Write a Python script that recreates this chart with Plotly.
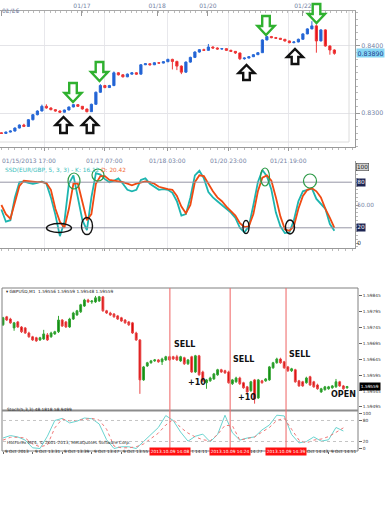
import plotly.graph_objects as go

W, H = 385, 505

# ---------------- TOP CHART (EUR/GBP) ----------------
top_open = [.82705,.82695,.82716,.82731,.82776,.82821,.82800,.82900,.82975,.83030,
            .83100,.83075,.83050,.83030,.83012,.83045,.83090,.83125,.83100,.83060,
            .83020,.83130,.83310,.83410,.83380,.83410,.83600,.83570,.83540,.83580,
            .83600,.83580,.83720,.83735,.83720,.83750,.83745,.83765,.83800,.83770,
            .83700,.83610,.83760,.83830,.83910,.83945,.83935,.83985,.83970,.83955,
            .83960,.83935,.83920,.83896,.83810,.83820,.83840,.83870,.83900,.84090,
            .84140,.84125,.84115,.84100,.84075,.84050,.84060,.84100,.84180,.84255,
            .84300,.84075,.84240,.84000,.83940]
top_close = [.82695,.82716,.82731,.82776,.82821,.82800,.82900,.82975,.83030,.83100,
             .83075,.83050,.83030,.83012,.83045,.83090,.83125,.83100,.83060,.83020,
             .83130,.83310,.83410,.83380,.83410,.83600,.83570,.83540,.83580,.83600,
             .83580,.83720,.83735,.83720,.83750,.83745,.83765,.83800,.83770,.83700,
             .83610,.83760,.83830,.83910,.83945,.83935,.83985,.83970,.83955,.83960,
             .83935,.83920,.83896,.83810,.83820,.83840,.83870,.83900,.84090,.84140,
             .84125,.84115,.84100,.84075,.84050,.84060,.84100,.84180,.84255,.84300,
             .84075,.84240,.84000,.83940,.83890]
top_high = [.82712,.82722,.82740,.82785,.82830,.82840,.82910,.82985,.83040,.83125,
            .83130,.83085,.83060,.83040,.83050,.83095,.83135,.83130,.83105,.83065,
            .83140,.83320,.83430,.83420,.83420,.83620,.83610,.83580,.83590,.83610,
            .83610,.83730,.83745,.83740,.83760,.83760,.83775,.83810,.83810,.83780,
            .83710,.83770,.83840,.83920,.83955,.83960,.84030,.83995,.83980,.83970,
            .83965,.83945,.83925,.83900,.83830,.83850,.83880,.83910,.84100,.84150,
            .84150,.84135,.84120,.84105,.84080,.84070,.84110,.84190,.84265,.84370,
            .84320,.84250,.84250,.84010,.83950]
top_low = [.82688,.82690,.82710,.82725,.82770,.82790,.82795,.82890,.82965,.83025,
           .83065,.83040,.83020,.83005,.83008,.83040,.83085,.83090,.83050,.83010,
           .83015,.83125,.83300,.83370,.83375,.83400,.83560,.83530,.83535,.83575,
           .83570,.83575,.83715,.83710,.83715,.83735,.83740,.83760,.83650,.83640,
           .83580,.83600,.83750,.83820,.83900,.83925,.83930,.83960,.83945,.83945,
           .83925,.83910,.83880,.83790,.83795,.83815,.83835,.83865,.83895,.84085,
           .84115,.84105,.84090,.84065,.84040,.84040,.84055,.84095,.84175,.84250,
           .83900,.84070,.83990,.83870,.83870]
top_k = [44,28,30,60,80,81,79,78,79,81,78,60,37,9,28,78,89,60,30,17,
         60,92,90,84,80,82,85,78,70,68,70,83,85,78,74,70,71,70,66,55,
         36,38,60,89,95,85,67,60,55,50,45,40,33,20,14,22,50,80,96,88,
         70,40,22,13,14,30,55,68,70,72,58,52,45,25,16]
top_d = [50,38,32,52,75,82,81,80,80,80,79,70,45,28,20,45,78,78,55,30,
         38,78,88,88,83,82,82,80,78,76,78,80,81,80,78,74,72,71,70,62,
         48,39,50,80,89,88,78,68,60,55,48,42,36,26,21,22,38,68,86,89,
         82,60,35,18,16,22,45,62,70,72,68,60,45,33,20]
top_bottom_tick_idx = [9.47, 23.0, 36.8, 50.4, 63.9]
top_bottom_tick_text = ["01/15/2013 17:00", "01/17 07:00", "01/18 03:00", "01/20 23:00", "01/21 19:00"]
top_top_tick_idx = [0.13, 17.9, 34.6, 45.9, 67.0]
top_top_tick_text = ["01/16", "01/17", "01/18", "01/20", "01/22"]
top_price_ticks = [0.8300, 0.8400]
top_price_text = ["0.8300", "0.8400"]
top_last_price = 0.83890
top_stoch_levels = [100, 80, 50, 20, 0]
top_stoch_text = ["100", "80", "50.00", "20", "0"]

# ---------------- BOTTOM CHART (GBPUSD M1) ----------------
bot_open = [1.59754,1.59779,1.59772,1.59744,1.59763,1.59747,1.59744,1.59728,1.59716,1.59713,
            1.59706,1.59709,1.59722,1.59716,1.59725,1.59732,1.59769,1.59763,1.59747,1.59772,
            1.59785,1.59795,1.59813,1.59832,1.59826,1.59826,1.59829,1.59842,1.59798,1.59791,
            1.59788,1.59782,1.59776,1.59769,1.59763,1.59760,1.59728,1.59706,1.59580,1.59624,
            1.59634,1.59640,1.59643,1.59637,1.59643,1.59653,1.59653,1.59653,1.59640,1.59650,
            1.59631,1.59653,1.59605,1.59656,1.59605,1.59571,1.59577,1.59583,1.59596,1.59612,
            1.59609,1.59605,1.59568,1.59574,1.59586,1.59571,1.59558,1.59546,1.59580,1.59523,
            1.59577,1.59577,1.59580,1.59618,1.59634,1.59646,1.59637,1.59621,1.59609,1.59612,
            1.59577,1.59574,1.59571,1.59590,1.59574,1.59564,1.59542,1.59549,1.59552,1.59555,
            1.59558,1.59574,1.59561,1.59555]
bot_close = [1.59776,1.59769,1.59760,1.59760,1.59747,1.59732,1.59728,1.59716,1.59706,1.59703,
             1.59713,1.59725,1.59706,1.59728,1.59732,1.59769,1.59750,1.59747,1.59772,1.59791,
             1.59798,1.59817,1.59832,1.59826,1.59829,1.59839,1.59842,1.59798,1.59791,1.59785,
             1.59779,1.59772,1.59766,1.59760,1.59754,1.59728,1.59706,1.59580,1.59621,1.59634,
             1.59640,1.59643,1.59637,1.59646,1.59653,1.59643,1.59646,1.59643,1.59653,1.59631,
             1.59643,1.59605,1.59656,1.59596,1.59577,1.59580,1.59586,1.59599,1.59612,1.59605,
             1.59602,1.59571,1.59580,1.59586,1.59568,1.59555,1.59542,1.59574,1.59520,1.59580,
             1.59571,1.59583,1.59621,1.59634,1.59646,1.59634,1.59618,1.59609,1.59615,1.59574,
             1.59561,1.59561,1.59586,1.59564,1.59558,1.59552,1.59552,1.59558,1.59558,1.59561,
             1.59574,1.59561,1.59552,1.59559]
bot_high = [1.59779,1.59782,1.59776,1.59763,1.59766,1.59750,1.59747,1.59732,1.59719,1.59716,
            1.59716,1.59738,1.59728,1.59732,1.59735,1.59782,1.59772,1.59766,1.59776,1.59795,
            1.59801,1.59820,1.59836,1.59836,1.59832,1.59845,1.59845,1.59845,1.59801,1.59795,
            1.59791,1.59785,1.59779,1.59772,1.59766,1.59763,1.59732,1.59709,1.59624,1.59637,
            1.59643,1.59646,1.59646,1.59650,1.59656,1.59656,1.59656,1.59659,1.59656,1.59653,
            1.59646,1.59656,1.59659,1.59659,1.59609,1.59583,1.59590,1.59602,1.59615,1.59615,
            1.59612,1.59609,1.59583,1.59590,1.59590,1.59574,1.59561,1.59577,1.59583,1.59583,
            1.59580,1.59586,1.59624,1.59637,1.59650,1.59650,1.59640,1.59624,1.59618,1.59615,
            1.59580,1.59577,1.59590,1.59593,1.59577,1.59568,1.59555,1.59561,1.59561,1.59564,
            1.59583,1.59577,1.59564,1.59561]
bot_low = [1.59750,1.59766,1.59757,1.59735,1.59744,1.59728,1.59725,1.59713,1.59703,1.59700,
           1.59703,1.59706,1.59703,1.59713,1.59722,1.59728,1.59747,1.59744,1.59744,1.59769,
           1.59782,1.59791,1.59810,1.59823,1.59820,1.59823,1.59826,1.59795,1.59788,1.59782,
           1.59776,1.59769,1.59763,1.59757,1.59750,1.59725,1.59703,1.59536,1.59577,1.59621,
           1.59631,1.59637,1.59634,1.59627,1.59640,1.59640,1.59643,1.59640,1.59637,1.59627,
           1.59627,1.59602,1.59602,1.59593,1.59574,1.59552,1.59574,1.59580,1.59593,1.59602,
           1.59599,1.59568,1.59564,1.59571,1.59564,1.59552,1.59539,1.59542,1.59505,1.59520,
           1.59568,1.59574,1.59577,1.59615,1.59631,1.59631,1.59615,1.59605,1.59605,1.59571,
           1.59558,1.59558,1.59568,1.59561,1.59555,1.59549,1.59539,1.59546,1.59549,1.59552,
           1.59555,1.59558,1.59549,1.59552]
bot_stoch_x = list(range(0, 94, 2))
bot_k = [30,37,33,24,2,0,35,80,86,73,78,87,85,70,25,0,5,5,0,20,
         40,60,94,80,47,21,35,41,19,40,95,45,24,30,33,53,67,95,93,40,
         16,20,33,21,25,60,50]
bot_d = [24,32,32,30,13,5,10,59,84,79,80,82,86,81,55,7,2,2,5,13,
         28,44,67,83,60,44,33,25,22,40,66,65,24,29,33,47,60,80,86,55,
         24,16,24,27,34,46,59]
bot_price_ticks = [1.59845, 1.59795, 1.59745, 1.59695, 1.59645, 1.59595, 1.59545, 1.59495]
bot_last_price = 1.59559
bot_stoch_levels = [100, 80, 20, 0]
bot_tick_idx = [0, 8, 16, 24, 32, 40, 48, 56, 64, 72, 80, 88]
# fully visible time labels
bot_time_idx = [0, 8, 16, 24, 32, 88]
bot_time_text = ["9 Oct 2013", "9 Oct 13:31", "9 Oct 13:39", "9 Oct 13:47", "9 Oct 13:55", "9 Oct 14:51"]
# time labels partly hidden by the red boxes: visible remainder, placed after each box
bot_part_idx = [50.6, 66.3, 81.7]
bot_part_text = ["t 14:11", "14:27", "Oct 14:43"]
signal_idx = [45.1, 61.4, 76.5]
signal_text = ["2013.10.09 14:08", "2013.10.09 14:24", "2013.10.09 14:39"]
sell_labels = ["SELL", "SELL", "SELL"]


def fx(p):
    return p / W


def fy(p):
    return 1 - p / H


TOPF = "DejaVu Sans"
AXC = "#7482a4"

fig = go.Figure()

fig.add_trace(go.Candlestick(
    x=list(range(len(top_open))), open=top_open, high=top_high, low=top_low, close=top_close,
    xaxis="x", yaxis="y", whiskerwidth=0,
    increasing=dict(line=dict(color="#2a6ad8", width=1), fillcolor="#1f5fd0"),
    decreasing=dict(line=dict(color="#ee3a3a", width=1), fillcolor="#e8141c"),
    showlegend=False, hoverinfo="skip"))
fig.add_trace(go.Scatter(x=[0], y=[0.83], xaxis="x2", yaxis="y", mode="markers",
                         marker=dict(opacity=0), showlegend=False, hoverinfo="skip"))
fig.add_trace(go.Scatter(x=list(range(len(top_k))), y=top_k, xaxis="x3", yaxis="y3", mode="lines",
                         line=dict(color="#1db5b0", width=1.8), showlegend=False, hoverinfo="skip"))
fig.add_trace(go.Scatter(x=list(range(len(top_d))), y=top_d, xaxis="x3", yaxis="y3", mode="lines",
                         line=dict(color="#f04a12", width=1.8), showlegend=False, hoverinfo="skip"))

fig.add_trace(go.Candlestick(
    x=list(range(len(bot_open))), open=bot_open, high=bot_high, low=bot_low, close=bot_close,
    xaxis="x4", yaxis="y4", whiskerwidth=0,
    increasing=dict(line=dict(color="#35a535", width=1), fillcolor="#0e8a0e"),
    decreasing=dict(line=dict(color="#e84848", width=1), fillcolor="#d80000"),
    showlegend=False, hoverinfo="skip"))
fig.add_trace(go.Scatter(x=bot_stoch_x, y=bot_k, xaxis="x5", yaxis="y5", mode="lines",
                         line=dict(color="#6ad4d0", width=1), showlegend=False, hoverinfo="skip"))
fig.add_trace(go.Scatter(x=bot_stoch_x, y=bot_d, xaxis="x5", yaxis="y5", mode="lines",
                         line=dict(color="#f07878", width=1, dash="dot"), showlegend=False, hoverinfo="skip"))

top_xr = [-0.311, 78.58]
bot_xr = [-0.27, 95.95]

fig.update_layout(
    width=W, height=H, margin=dict(l=0, r=0, t=0, b=0),
    paper_bgcolor="white", plot_bgcolor="white", showlegend=False,
    font=dict(family=TOPF, size=6, color=AXC),
    xaxis=dict(domain=[0, fx(355)], range=top_xr, rangeslider=dict(visible=False),
               showgrid=True, gridcolor="#e8e8ec", tickvals=top_bottom_tick_idx,
               showticklabels=False, ticks="outside", ticklen=3, tickcolor="#999",
               showline=True, linecolor="#9a9a9a",
               minor=dict(ticks="outside", ticklen=2, dtick=1.5, tickcolor="#bbb"),
               zeroline=False, fixedrange=True),
    xaxis2=dict(overlaying="x", side="top", anchor="y", range=top_xr,
                tickvals=top_top_tick_idx, ticktext=top_top_tick_text,
                ticks="inside", ticklen=5, tickcolor="#999", showline=True, linecolor="#a8a8a8",
                tickfont=dict(size=6, color=AXC, family=TOPF), showgrid=False,
                minor=dict(ticks="inside", ticklen=2, dtick=1.2, tickcolor="#bbb"),
                zeroline=False),
    yaxis=dict(domain=[fy(147), fy(11)], range=[0.82493, 0.84522], side="right",
               tickvals=top_price_ticks, ticktext=top_price_text,
               tickfont=dict(size=6.3, color=AXC, family=TOPF),
               showgrid=True, gridcolor="#e4e4e8", showline=True, linecolor="#9a9a9a",
               ticks="outside", ticklen=4, tickcolor="#999",
               minor=dict(ticks="outside", ticklen=2, dtick=0.001, tickcolor="#bbb"),
               zeroline=False),
    xaxis3=dict(domain=[0, fx(355)], anchor="y3", range=top_xr, showgrid=True,
                gridcolor="#ececf0", tickvals=top_bottom_tick_idx, showticklabels=False,
                ticks="outside", ticklen=2, tickcolor="#999", showline=True, linecolor="#9a9a9a",
                minor=dict(ticks="outside", ticklen=2, dtick=1.5, tickcolor="#bbb"),
                zeroline=False),
    yaxis3=dict(domain=[fy(248), fy(161)], anchor="x3", range=[-6.58, 107.9], side="right",
                tickvals=top_stoch_levels, showticklabels=False, showgrid=False,
                showline=True, linecolor="#9a9a9a", ticks="outside", ticklen=3, tickcolor="#999",
                minor=dict(ticks="outside", ticklen=2, dtick=5, tickcolor="#bbb"),
                zeroline=False),
    xaxis4=dict(domain=[fx(2), fx(358)], anchor="y4", range=bot_xr,
                rangeslider=dict(visible=False), showgrid=False, showticklabels=False,
                ticks="", showline=False, zeroline=False),
    yaxis4=dict(domain=[fy(410), fy(288)], anchor="x4", range=[1.59485, 1.59870], side="right",
                tickvals=bot_price_ticks, ticktext=[f"{v:.5f}" for v in bot_price_ticks],
                tickfont=dict(size=4.3, color="#333", family=TOPF),
                showgrid=False, showline=False, ticks="outside", ticklen=3, tickcolor="#666",
                zeroline=False),
    xaxis5=dict(domain=[fx(2), fx(358)], anchor="y5", range=bot_xr, showgrid=False,
                tickvals=bot_tick_idx, showticklabels=False, ticks="outside", ticklen=2,
                tickcolor="#666", showline=False, zeroline=False),
    yaxis5=dict(domain=[fy(451), fy(411)], anchor="x5", range=[-7.1, 107], side="right",
                tickvals=bot_stoch_levels, ticktext=[str(v) for v in bot_stoch_levels],
                tickfont=dict(size=4.3, color="#333", family=TOPF),
                showgrid=False, showline=False, ticks="outside", ticklen=3, tickcolor="#666",
                zeroline=False),
)

shapes = []
ann = []

# first top-ruler label, at the left edge
ann.append(dict(x=0, xref="paper", xanchor="left", y=fy(4.5), yref="paper",
                text=top_top_tick_text[0], showarrow=False,
                font=dict(size=6, color=AXC, family=TOPF)))

# top chart inner frame lines
shapes.append(dict(type="line", xref="paper", yref="paper", x0=fx(349), x1=fx(349), y0=fy(142), y1=fy(11),
                   line=dict(color="#dcdcdc", width=1)))
shapes.append(dict(type="line", xref="paper", yref="paper", x0=0, x1=fx(349), y0=fy(142), y1=fy(142),
                   line=dict(color="#dcdcdc", width=1)))

# stochastic 20/80 levels (top)
for lv in [80, 20]:
    shapes.append(dict(type="line", xref="paper", yref="y3", x0=0, x1=fx(352), y0=lv, y1=lv,
                       line=dict(color="#9696a6", width=1)))


def arrow(cx, y_tail, y_tip, half_w, shaft_hw, head_len, color):
    d = 1 if y_tip > y_tail else -1
    yh = y_tip - d * head_len
    pts = [(cx - shaft_hw, y_tail), (cx + shaft_hw, y_tail), (cx + shaft_hw, yh), (cx + half_w, yh),
           (cx, y_tip), (cx - half_w, yh), (cx - shaft_hw, yh)]
    path = "M " + " L ".join(f"{fx(x):.5f},{fy(y):.5f}" for x, y in pts) + " Z"
    return dict(type="path", xref="paper", yref="paper", path=path, fillcolor="white",
                line=dict(color=color, width=2.4))


for cx, t, b in [(73, 83, 102), (99.5, 62, 81), (266, 16, 35), (316.5, 4, 23)]:
    shapes.append(arrow(cx, t, b, 8.5, 3.8, 9, "#2fb12f"))
for cx, b, t in [(63.5, 133, 117), (90, 133, 117), (246.5, 80, 65), (295, 64, 49)]:
    shapes.append(arrow(cx, b, t, 8, 3.3, 8, "#111111"))

# ellipses on top stochastic
for cx, cy, w, h in [(74, 181, 12, 16), (98, 175, 12, 12), (265, 177, 9, 18), (310, 181, 13, 14)]:
    shapes.append(dict(type="circle", xref="paper", yref="paper", x0=fx(cx - w / 2), x1=fx(cx + w / 2),
                       y0=fy(cy + h / 2), y1=fy(cy - h / 2), line=dict(color="#2e9a48", width=1.2)))
for cx, cy, w, h in [(59, 228, 25, 9), (87, 226, 11, 17), (246, 227, 6, 13), (290, 227, 9, 14)]:
    shapes.append(dict(type="circle", xref="paper", yref="paper", x0=fx(cx - w / 2), x1=fx(cx + w / 2),
                       y0=fy(cy + h / 2), y1=fy(cy - h / 2), line=dict(color="#111", width=1.4)))

# top bottom-axis labels
for i, (tv, tt) in enumerate(zip(top_bottom_tick_idx, top_bottom_tick_text)):
    if i == 0:
        ann.append(dict(x=0, xref="paper", xanchor="left", y=fy(155), yref="paper", text=tt,
                        showarrow=False, font=dict(size=6, color=AXC, family=TOPF)))
    else:
        ann.append(dict(x=tv, xref="x", xanchor="center", y=fy(155), yref="paper", text=tt,
                        showarrow=False, font=dict(size=6, color=AXC, family=TOPF)))

# last price box (top)
ann.append(dict(x=fx(356), xref="paper", xanchor="left", y=top_last_price, yref="y",
                text=f"{top_last_price:.5f}", showarrow=False, bgcolor="#86d6f4",
                font=dict(size=6.3, color="#1a3c8c", family=TOPF), borderpad=0.5))

# stochastic legend (top)
ann.append(dict(x=fx(3), xref="paper", xanchor="left", y=fy(165), yref="paper",
                text="<span style='color:#3cc0bc'>SSD(EUR/GBP, 5, 3, 3) - K: 16.12</span> "
                     "<span style='color:#f06a3a'>D: 20.42</span>",
                showarrow=False, font=dict(size=5.8, family=TOPF)))

# stochastic level labels (top)
for lv, tx in zip(top_stoch_levels, top_stoch_text):
    if tx in ("80", "20"):
        st = dict(bgcolor="#1c2452", font=dict(size=5.8, color="white", family=TOPF))
    elif tx == "100":
        st = dict(bgcolor="#d4d4d4", bordercolor="#444", borderwidth=0.6,
                  font=dict(size=5.8, color="#222", family=TOPF))
    else:
        st = dict(font=dict(size=5.8, color=AXC if tx == "50.00" else "#333", family=TOPF))
    ann.append(dict(x=fx(356), xref="paper", xanchor="left", y=lv, yref="y3", text=tx,
                    showarrow=False, borderpad=0.3, **st))

# ---------- bottom chart decorations ----------
shapes.append(dict(type="rect", xref="paper", yref="paper", x0=fx(2), x1=fx(358), y0=fy(451), y1=fy(288),
                   line=dict(color="#808080", width=1)))
shapes.append(dict(type="line", xref="paper", yref="paper", x0=fx(2), x1=fx(358), y0=fy(410.5), y1=fy(410.5),
                   line=dict(color="#8c8c8c", width=2)))
for lv in [80, 20]:
    shapes.append(dict(type="line", xref="paper", yref="y5", x0=fx(3), x1=fx(357), y0=lv, y1=lv,
                       line=dict(color="#c4c4c4", width=1, dash="dot")))
for sx in signal_idx:
    shapes.append(dict(type="line", xref="x4", yref="paper", x0=sx, x1=sx, y0=fy(451), y1=fy(288),
                       line=dict(color="rgba(240,110,110,0.9)", width=1.2)))

ann.append(dict(x=fx(4), xref="paper", xanchor="left", y=fy(291.5), yref="paper",
                text="▾ GBPUSD,M1  1.59556 1.59559 1.59548 1.59559", showarrow=False,
                font=dict(size=4.3, color="#222", family=TOPF)))
ann.append(dict(x=fx(5), xref="paper", xanchor="left", y=fy(414), yref="paper",
                text="Stoch(5,3,3) 48.1818 58.9499", showarrow=False,
                font=dict(size=4.3, color="#222", family=TOPF)))
ann.append(dict(x=fx(5), xref="paper", xanchor="left", y=fy(447), yref="paper",
                text="HotForex MT4, © 2001-2013, MetaQuotes Software Corp.", showarrow=False,
                font=dict(size=4.3, color="#222", family=TOPF)))

BF = dict(size=8, color="#111", family="DejaVu Sans")
for (xp, yp), tx in zip([(172, 351), (231, 366), (287, 361)], sell_labels):
    ann.append(dict(x=fx(xp), xref="paper", xanchor="left", y=fy(yp), yref="paper",
                    text=f"<b>{tx}</b>", showarrow=False, font=BF))
for (xp, yp) in [(186, 389), (236, 404)]:
    ann.append(dict(x=fx(xp), xref="paper", xanchor="left", y=fy(yp), yref="paper",
                    text="<b>+10</b>", showarrow=False, font=BF))
ann.append(dict(x=fx(329), xref="paper", xanchor="left", y=fy(401), yref="paper",
                text="<b>OPEN</b>", showarrow=False, font=BF))

ann.append(dict(x=fx(359), xref="paper", xanchor="left", y=bot_last_price, yref="y4",
                text=f"{bot_last_price:.5f}", showarrow=False, bgcolor="#000",
                font=dict(size=4.3, color="white", family=TOPF), borderpad=0.8))

for tv, tt in zip(bot_time_idx, bot_time_text):
    ann.append(dict(x=tv, xref="x5", xanchor="left", y=fy(455.5), yref="paper", text=tt,
                    showarrow=False, font=dict(size=4.3, color="#222", family=TOPF)))
for tv, tt in zip(bot_part_idx, bot_part_text):
    ann.append(dict(x=tv, xref="x5", xanchor="left", y=fy(455.5), yref="paper", text=tt,
                    showarrow=False, font=dict(size=4.3, color="#222", family=TOPF)))
for sx, st in zip(signal_idx, signal_text):
    ann.append(dict(x=sx, xref="x5", xanchor="center", y=fy(455.5), yref="paper", text=st,
                    showarrow=False, bgcolor="#ff1010", borderpad=0.8,
                    font=dict(size=4.3, color="white", family=TOPF)))

fig.update_layout(shapes=shapes, annotations=ann)
fig.write_html("out.html", config={"displayModeBar": False},
               post_script="document.body.style.margin='0';document.body.style.overflow='hidden';")
